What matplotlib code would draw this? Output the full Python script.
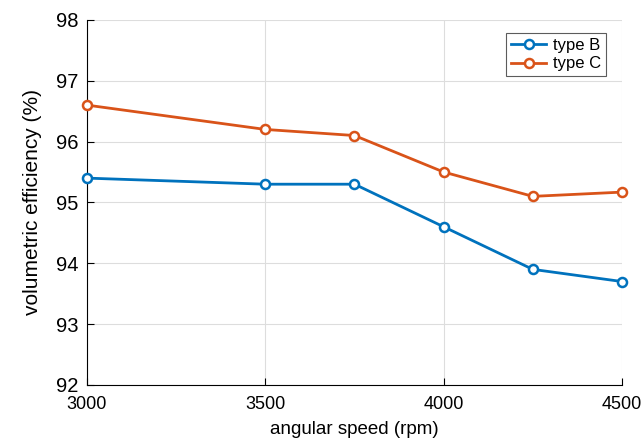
import numpy as np
import matplotlib.pyplot as plt

plt.rcParams['font.family'] = ['Liberation Sans', 'DejaVu Sans']

# Data
speed = [3000, 3500, 3750, 4000, 4250, 4500]
eff_b = [95.4, 95.3, 95.3, 94.6, 93.9, 93.7]
eff_c = [96.6, 96.2, 96.1, 95.5, 95.1, 95.17]

fig = plt.figure(figsize=(6.43, 4.43), dpi=100)
ax = fig.add_axes([0.1353, 0.131, 0.832, 0.824])

ax.plot(speed, eff_b, '-o', color='#0072BD', lw=2, ms=6.5, mfc='white',
        mew=1.8, label='type B', clip_on=False, zorder=3)
ax.plot(speed, eff_c, '-o', color='#D95319', lw=2, ms=6.5, mfc='white',
        mew=1.8, label='type C', clip_on=False, zorder=3)

ax.set_xlim(3000, 4500)
ax.set_ylim(92, 98)
ax.set_xticks([3000, 3500, 4000, 4500])
ax.set_yticks(np.arange(92, 99, 1))
ax.grid(True, color='#dddddd', lw=0.8)
ax.set_axisbelow(True)
for s in ['top', 'right']:
    ax.spines[s].set_visible(False)
ax.tick_params(direction='in', length=5, width=0.8)
ax.tick_params(axis='x', labelsize=13, pad=8)
ax.tick_params(axis='y', labelsize=14.5, pad=6)
ax.set_xlabel('angular speed (rpm)', fontsize=13.5, labelpad=6)
ax.set_ylabel('volumetric efficiency (%)', fontsize=15, labelpad=10)

leg = ax.legend(loc='upper right', bbox_to_anchor=(0.970, 0.964), fontsize=12,
                frameon=True, fancybox=False, edgecolor='#333333',
                handlelength=2.1, borderpad=0.3, labelspacing=0.2,
                handletextpad=0.4, borderaxespad=0)
leg.get_frame().set_linewidth(0.8)

plt.savefig('out.png', dpi=100)
